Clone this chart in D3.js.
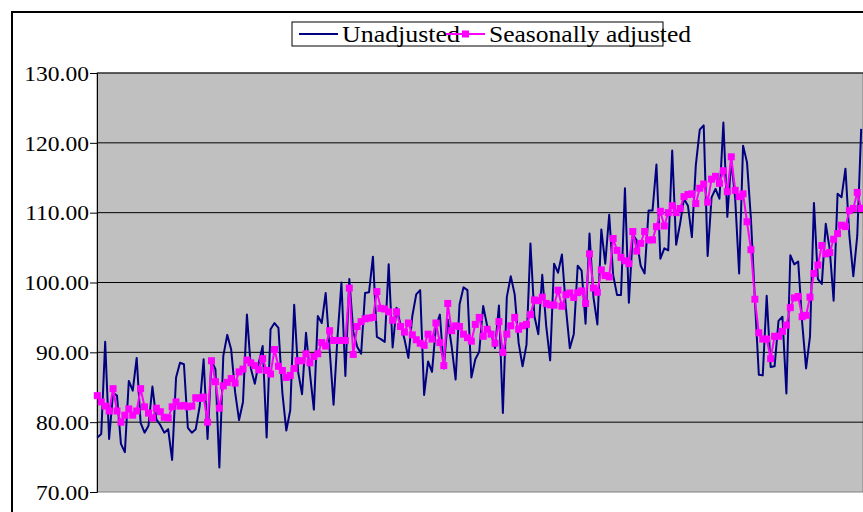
<!DOCTYPE html>
<html>
<head>
<meta charset="utf-8">
<script src="https://cdn.jsdelivr.net/npm/d3@7"></script>
<style>
  body { margin: 0; background: #fff; overflow: hidden; }
</style>
</head>
<body>
<div id="chart"></div>
<script>
// monthly index values
const unadjusted = [
  77.8, 78.3, 91.5, 77.6, 84.2, 83.8, 76.9, 75.7, 85.9, 84.5, 89.2, 79.9, 78.5, 79.5, 85.1, 80.4, 79.6,
  78.5, 79.0, 74.6, 86.4, 88.5, 88.3, 79.2, 78.5, 79.0, 82.3, 89.0, 77.6, 88.8, 87.6, 73.5, 89.5,
  92.5, 90.4, 84.3, 80.3, 82.9, 95.4, 87.7, 85.5, 88.5, 90.9, 77.8, 93.3, 94.2, 93.5, 84.2, 78.8,
  81.7, 96.8, 87.2, 84.0, 92.8, 87.0, 81.8, 95.2, 94.2, 98.5, 90.4, 82.5, 92.2, 100.0, 86.6, 100.5,
  93.0, 90.8, 89.8, 98.5, 98.6, 103.7, 92.2, 91.9, 91.5, 102.6, 90.7, 96.4, 94.0, 91.9, 89.2,
  95.2, 98.3, 98.9, 83.9, 88.7, 87.2, 93.7, 95.4, 87.7, 94.7, 90.8, 86.1, 96.9, 99.3, 98.9,
  86.4, 89.0, 90.1, 96.65, 93.8, 92.8, 90.6, 96.7, 81.3, 97.9, 100.9, 98.3, 91.35, 88.0, 91.1, 105.6,
  95.2, 92.6, 101.1, 93.8, 88.85, 102.7, 101.4, 104.0, 96.4, 90.6, 92.6, 102.4, 101.7, 94.1, 107.0,
  97.9, 94.0, 107.6, 102.7, 109.7, 101.1, 98.2, 98.2, 113.5, 97.1, 106.9, 106.0, 102.4, 101.3, 110.3,
  110.3, 116.9, 103.4, 104.9, 104.6, 118.9, 105.4, 108.4, 112.0, 111.0, 106.5, 116.8, 121.9, 122.5,
  103.8, 112.2, 113.4, 112.0, 122.9, 109.4,
  117.5, 112.0, 101.3, 119.6, 117.2, 109.1, 97.5, 86.8, 86.7, 98.1, 87.9, 88.0, 94.5, 95.1, 84.1,
  103.9, 102.6, 103.0, 94.3, 87.7, 92.3, 111.4, 100.5, 99.8, 108.4, 104.8, 97.4, 112.7, 112.2, 116.3,
  106.7, 100.9, 106.7, 122.0
];

const seasonallyAdjusted = [
  83.8, 82.9, 82.3, 81.6, 84.8, 81.6, 80.0, 81.0, 81.9, 81.0, 81.6, 84.8, 82.2, 81.3, 80.6, 82.0, 81.5,
  80.7, 80.6, 82.2, 82.9, 82.3, 82.4, 82.2, 82.3, 83.5, 83.4, 83.6, 80.0, 88.8, 85.8, 82.0, 85.2,
  85.7, 86.25, 85.6, 87.2, 87.6, 88.9, 88.5, 88.1, 87.5, 89.1, 87.4, 86.9, 90.4, 88.0, 87.4, 86.4,
  86.7, 87.7, 88.8, 88.8, 89.8, 88.5, 89.4, 89.8, 91.4, 90.9, 93.1, 91.7, 91.7, 91.7, 91.7, 99.2,
  89.7, 93.7, 94.4, 94.8, 94.9, 95.0, 98.7, 96.3, 96.2, 95.8, 94.6, 95.8, 93.7, 92.9, 94.2, 92.5,
  91.8, 91.3, 91.0, 92.6, 91.9, 94.2, 91.4, 88.1, 97.0, 93.1, 93.8, 93.7, 92.6, 92.1, 91.6, 94.0,
  95.0, 92.3, 93.3, 92.6, 91.3, 94.4, 90.0, 92.6, 93.8, 95.0, 93.3, 93.8, 94.0, 95.4, 97.5, 97.4,
  97.9, 97.0, 96.8, 96.75, 98.9, 96.6, 98.25, 98.5, 97.85, 98.55, 98.8, 97.0, 104.1, 99.2, 98.6,
  101.8, 101.0, 100.8, 106.3, 104.6, 103.6, 103.1, 102.7, 107.3, 104.5, 105.6, 107.3, 106.1, 106.1,
  108.0, 110.2, 108.1, 110.0, 111.0, 110.0, 110.6, 112.3, 112.6, 112.7, 111.3, 113.5, 114.1, 111.5,
  114.8, 115.2, 114.2, 116.0, 113.0, 118.0, 113.2, 112.3, 112.7, 108.7, 104.7, 97.6, 92.8, 91.9,
  91.9, 89.1, 92.3, 92.3, 93.0, 93.9, 96.4, 97.8, 98.0, 95.1, 95.3, 97.9, 101.3, 102.5, 105.3,
  104.1, 104.3, 106.2, 107.0, 108.2, 108.0, 110.3, 110.6, 112.9, 110.6
];

const months = d3.range(unadjusted.length);
const yTicks = [70, 80, 90, 100, 110, 120, 130];
const seriesNames = ['Unadjusted', 'Seasonally adjusted'];

const width = 863, height = 512;
const plot = { left: 97, top: 73, right: 863, bottom: 492 };
const navy = '#000080', magenta = '#ff00ff';
const serif = '"Liberation Serif", "Times New Roman", serif';

const svg = d3.select('#chart')
  .append('svg')
  .attr('width', width)
  .attr('height', height)
  .attr('font-family', serif);

// chart area border (runs off the picture at right and bottom)
svg.append('rect')
  .attr('x', 12).attr('y', 12)
  .attr('width', 900).attr('height', 600)
  .attr('fill', '#fff')
  .attr('stroke', '#000')
  .attr('stroke-width', 2);

const x = d3.scalePoint()
  .domain(months)
  .range([plot.left + 0.3, 861.2]);

const y = d3.scaleLinear()
  .domain([70, 130])
  .range([plot.bottom, plot.top]);

// plot area
svg.append('rect')
  .attr('x', plot.left).attr('y', plot.top)
  .attr('width', plot.right - plot.left)
  .attr('height', plot.bottom - plot.top)
  .attr('fill', '#c0c0c0')
  .attr('stroke', '#808080')
  .attr('stroke-width', 1);

svg.append('g')
  .selectAll('line')
  .data(yTicks.filter(t => t > 70))
  .join('line')
  .attr('x1', plot.left).attr('x2', plot.right)
  .attr('y1', d => y(d)).attr('y2', d => y(d))
  .attr('stroke', '#000')
  .attr('stroke-width', 1);

const yAxis = svg.append('g')
  .attr('transform', `translate(${plot.left},0)`)
  .call(d3.axisLeft(y).tickValues(yTicks).tickFormat(d3.format('.2f')).tickSize(7).tickPadding(1))
  .attr('font-family', serif)
  .attr('font-size', 22);

yAxis.select('.domain').attr('stroke', '#000').attr('stroke-width', 1);
yAxis.selectAll('.tick line').attr('stroke', '#000');
yAxis.selectAll('.tick text')
  .attr('fill', '#000')
  .attr('dy', '0.33em')
  .each(function () {
    const w = this.getComputedTextLength();
    d3.select(this).attr('textLength', w * 1.07).attr('lengthAdjust', 'spacingAndGlyphs');
  });

const line = d3.line()
  .x((d, i) => x(i))
  .y(d => y(d));

svg.append('clipPath').attr('id', 'plotclip')
  .append('rect')
  .attr('x', plot.left - 6).attr('y', plot.top - 6)
  .attr('width', plot.right - plot.left + 12)
  .attr('height', plot.bottom - plot.top + 12);

const series = svg.append('g').attr('clip-path', 'url(#plotclip)');

series.append('path')
  .datum(unadjusted)
  .attr('d', line)
  .attr('fill', 'none')
  .attr('stroke', navy)
  .attr('stroke-width', 2)
  .attr('stroke-linejoin', 'round');

series.append('path')
  .datum(seasonallyAdjusted)
  .attr('d', line)
  .attr('fill', 'none')
  .attr('stroke', magenta)
  .attr('stroke-width', 2)
  .attr('stroke-linejoin', 'round');

series.selectAll('.marker')
  .data(seasonallyAdjusted)
  .join('rect')
  .attr('class', 'marker')
  .attr('x', (d, i) => x(i) - 3.5)
  .attr('y', d => y(d) - 3.5)
  .attr('width', 7)
  .attr('height', 7)
  .attr('fill', magenta);

// legend
const legend = svg.append('g');
legend.append('rect')
  .attr('x', 292).attr('y', 22)
  .attr('width', 371).attr('height', 24)
  .attr('fill', '#fff')
  .attr('stroke', '#000')
  .attr('stroke-width', 1);

legend.append('line')
  .attr('x1', 299).attr('x2', 338)
  .attr('y1', 34).attr('y2', 34)
  .attr('stroke', navy).attr('stroke-width', 2);

legend.append('text')
  .attr('x', 342).attr('y', 42)
  .attr('font-size', 24)
  .attr('textLength', 118).attr('lengthAdjust', 'spacingAndGlyphs')
  .text(seriesNames[0]);

legend.append('line')
  .attr('x1', 446).attr('x2', 485)
  .attr('y1', 34).attr('y2', 34)
  .attr('stroke', magenta).attr('stroke-width', 2);

legend.append('rect')
  .attr('x', 462).attr('y', 30.5)
  .attr('width', 7).attr('height', 7)
  .attr('fill', magenta);

legend.append('text')
  .attr('x', 489).attr('y', 42)
  .attr('font-size', 24)
  .attr('textLength', 202).attr('lengthAdjust', 'spacingAndGlyphs')
  .text(seriesNames[1]);
</script>
</body>
</html>
